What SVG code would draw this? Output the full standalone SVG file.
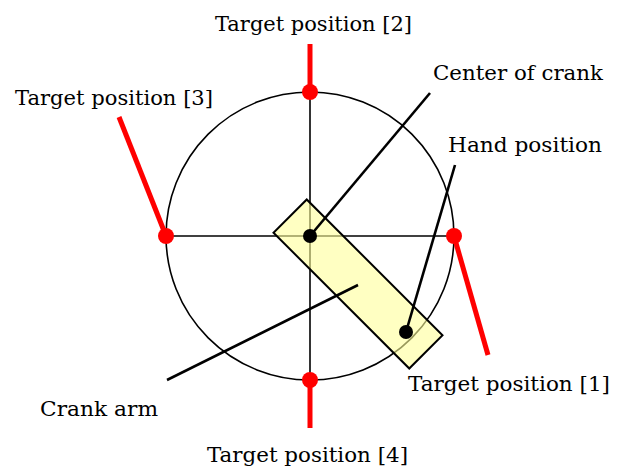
<svg xmlns="http://www.w3.org/2000/svg" width="620" height="470" viewBox="0 0 620 470">
<style>
.lbl{font-family:"DejaVu Serif","Liberation Serif",serif;font-size:20.5px;fill:#000}
.thin{stroke:#000;stroke-width:1.6;fill:none}
.lead{stroke:#000;stroke-width:2.6;fill:none}
.red{stroke:#ff0000;stroke-width:5;fill:none}
.rdot{fill:#ff0000}
.bdot{fill:#000}
</style>
<rect width="620" height="470" fill="#fff"/>
<g id="crank-circle">
<circle cx="310" cy="236" r="144" class="thin"/>
<line x1="166" y1="236" x2="454" y2="236" class="thin"/>
<line x1="310" y1="92" x2="310" y2="380" class="thin"/>
</g>
<g id="target2"><line x1="310" y1="92" x2="310" y2="44" class="red"/><circle cx="310" cy="92" r="8" class="rdot"/></g>
<g id="target3"><line x1="166" y1="236" x2="119" y2="117" class="red"/><circle cx="166" cy="236" r="8" class="rdot"/></g>
<g id="target1"><line x1="454" y1="236" x2="488" y2="355" class="red"/><circle cx="454" cy="236" r="8" class="rdot"/></g>
<g id="target4"><line x1="310" y1="380" x2="310" y2="428" class="red"/><circle cx="310" cy="380" r="8" class="rdot"/></g>
<g id="crank-arm">
<rect x="262" y="260.5" width="192" height="47" transform="rotate(45 358 284)" fill="#ffff99" fill-opacity="0.6" stroke="#000" stroke-width="2"/>
</g>
<g id="center-of-crank"><circle cx="310" cy="236" r="7" class="bdot"/></g>
<g id="hand-position"><circle cx="406" cy="332" r="7" class="bdot"/></g>
<g id="connectors">
<line x1="310" y1="236" x2="430" y2="93" class="lead"/>
<line x1="406" y1="332" x2="455" y2="165" class="lead"/>
<line x1="167" y1="380" x2="358" y2="285" class="lead"/>
</g>
<g id="labels">
<text class="lbl" x="215" y="31" textLength="197" lengthAdjust="spacingAndGlyphs">Target position [2]</text>
<text class="lbl" x="433" y="80" textLength="170" lengthAdjust="spacingAndGlyphs">Center of crank</text>
<text class="lbl" x="15" y="105" textLength="198" lengthAdjust="spacingAndGlyphs">Target position [3]</text>
<text class="lbl" x="448" y="152" textLength="154" lengthAdjust="spacingAndGlyphs">Hand position</text>
<text class="lbl" x="408" y="391" textLength="202" lengthAdjust="spacingAndGlyphs">Target position [1]</text>
<text class="lbl" x="40" y="416" textLength="118" lengthAdjust="spacingAndGlyphs">Crank arm</text>
<text class="lbl" x="207" y="462" textLength="201" lengthAdjust="spacingAndGlyphs">Target position [4]</text>
</g>
</svg>
